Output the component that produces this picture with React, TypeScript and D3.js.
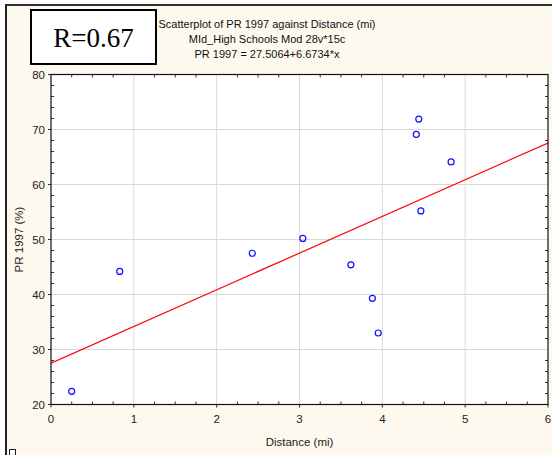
import React from "react";
import * as d3 from "d3";

const distance = [0.25, 0.83, 2.43, 3.04, 3.62, 3.88, 3.95, 4.41, 4.44, 4.83, 4.465];
const pr1997 = [22.4, 44.2, 47.5, 50.2, 45.4, 39.3, 33.0, 69.1, 71.9, 64.1, 55.2];
const xTicks = [0, 1, 2, 3, 4, 5, 6];
const yTicks = [20, 30, 40, 50, 60, 70, 80];
const intercept = 27.5064;
const slope = 6.6734;
const titleLines = [
  "Scatterplot of PR 1997 against Distance (mi)",
  "MId_High Schools Mod 28v*15c",
  "PR 1997 = 27.5064+6.6734*x",
];

export default function App() {
  const W = 552, H = 455;
  const left = 51, right = 548, top = 74.5, bottom = 404.5;
  const x = d3.scaleLinear().domain([0, 6]).range([left, right]);
  const y = d3.scaleLinear().domain([20, 80]).range([bottom, top]);
  const font = "Arial, 'Liberation Sans', sans-serif";
  const xMinor = d3.range(0, 6.001, 0.25).filter((v) => Math.abs(v - Math.round(v)) > 1e-6);
  const yMinor = d3.range(20, 80.001, 2).filter((v) => v % 10 !== 0);
  const line = d3.line<number>().x((d) => x(d)).y((d) => y(intercept + slope * d));
  const data = distance.map((d, i) => ({ d, p: pr1997[i] }));

  return (
    <svg width={W} height={H} style={{ position: "absolute", left: 0, top: 0 }}>
      <defs>
        <clipPath id="plotClip">
          <rect x={left} y={top} width={right - left} height={bottom - top} />
        </clipPath>
      </defs>
      <rect x={0} y={0} width={W} height={H} fill="#fff" />
      <rect x={6} y={5} width={W} height={H} fill="#FEF9EE" />
      <line x1={6} y1={5} x2={W} y2={5} stroke="#333" strokeWidth={2} />
      <line x1={6} y1={4} x2={6} y2={H} stroke="#222" strokeWidth={2} />
      <rect x={9.5} y={449.5} width={6} height={6} fill="#fff" stroke="#222" strokeWidth={1} />

      {/* R box */}
      <rect x={31} y={10} width={125} height={54} fill="#fff" stroke="#000" strokeWidth={2} />
      <text x={93.5} y={47} textAnchor="middle" fontFamily="'Liberation Serif', 'Times New Roman', serif" fontSize={27} fill="#000">
        R=0.67
      </text>

      {titleLines.map((t, i) => (
        <text key={i} x={267} y={28 + i * 15} textAnchor="middle" fontFamily={font} fontSize={11} fill="#111">
          {t}
        </text>
      ))}

      {/* plot background */}
      <rect x={left} y={top} width={right - left} height={bottom - top} fill="#fff" />
      {xTicks.slice(1, -1).map((t) => (
        <line key={"gx" + t} x1={x(t)} x2={x(t)} y1={top} y2={bottom} stroke="#d9d9d9" strokeWidth={1} />
      ))}
      {yTicks.slice(1, -1).map((t) => (
        <line key={"gy" + t} x1={left} x2={right} y1={y(t)} y2={y(t)} stroke="#d9d9d9" strokeWidth={1} />
      ))}

      {/* minor ticks inside */}
      {xMinor.map((t) => (
        <g key={"mx" + t}>
          <line x1={x(t)} x2={x(t)} y1={bottom} y2={bottom - 3} stroke="#333" />
          <line x1={x(t)} x2={x(t)} y1={top} y2={top + 3} stroke="#333" />
        </g>
      ))}
      {yMinor.map((t) => (
        <g key={"my" + t}>
          <line x1={left} x2={left + 3} y1={y(t)} y2={y(t)} stroke="#333" />
          <line x1={right} x2={right - 3} y1={y(t)} y2={y(t)} stroke="#333" />
        </g>
      ))}
      {/* major ticks outside */}
      {xTicks.map((t) => (
        <line key={"Mx" + t} x1={x(t)} x2={x(t)} y1={bottom} y2={bottom + 3} stroke="#333" />
      ))}
      {yTicks.map((t) => (
        <line key={"My" + t} x1={left - 3} x2={left} y1={y(t)} y2={y(t)} stroke="#333" />
      ))}

      <g clipPath="url(#plotClip)">
        <path d={line([0, 6]) || ""} fill="none" stroke="#ff0000" strokeWidth={1.2} />
      </g>

      {data.map((p, i) => (
        <circle key={i} cx={x(p.d)} cy={y(p.p)} r={3} fill="none" stroke="#1010ff" strokeWidth={1.2} />
      ))}

      <rect x={left} y={top} width={right - left} height={bottom - top} fill="none" stroke="#111" strokeWidth={1.2} />

      {xTicks.map((t) => (
        <text key={"lx" + t} x={x(t)} y={423} textAnchor="middle" fontFamily={font} fontSize={11.5} fill="#222">
          {t}
        </text>
      ))}
      {yTicks.map((t) => (
        <text key={"ly" + t} x={45} y={y(t) + 4} textAnchor="end" fontFamily={font} fontSize={11.5} fill="#222">
          {t}
        </text>
      ))}
      <text x={(left + right) / 2} y={446} textAnchor="middle" fontFamily={font} fontSize={11.5} fill="#222">
        Distance (mi)
      </text>
      <text transform={`translate(${23},${(top + bottom) / 2}) rotate(-90)`} textAnchor="middle" fontFamily={font} fontSize={11.5} fill="#222">
        PR 1997 (%)
      </text>
    </svg>
  );
}
